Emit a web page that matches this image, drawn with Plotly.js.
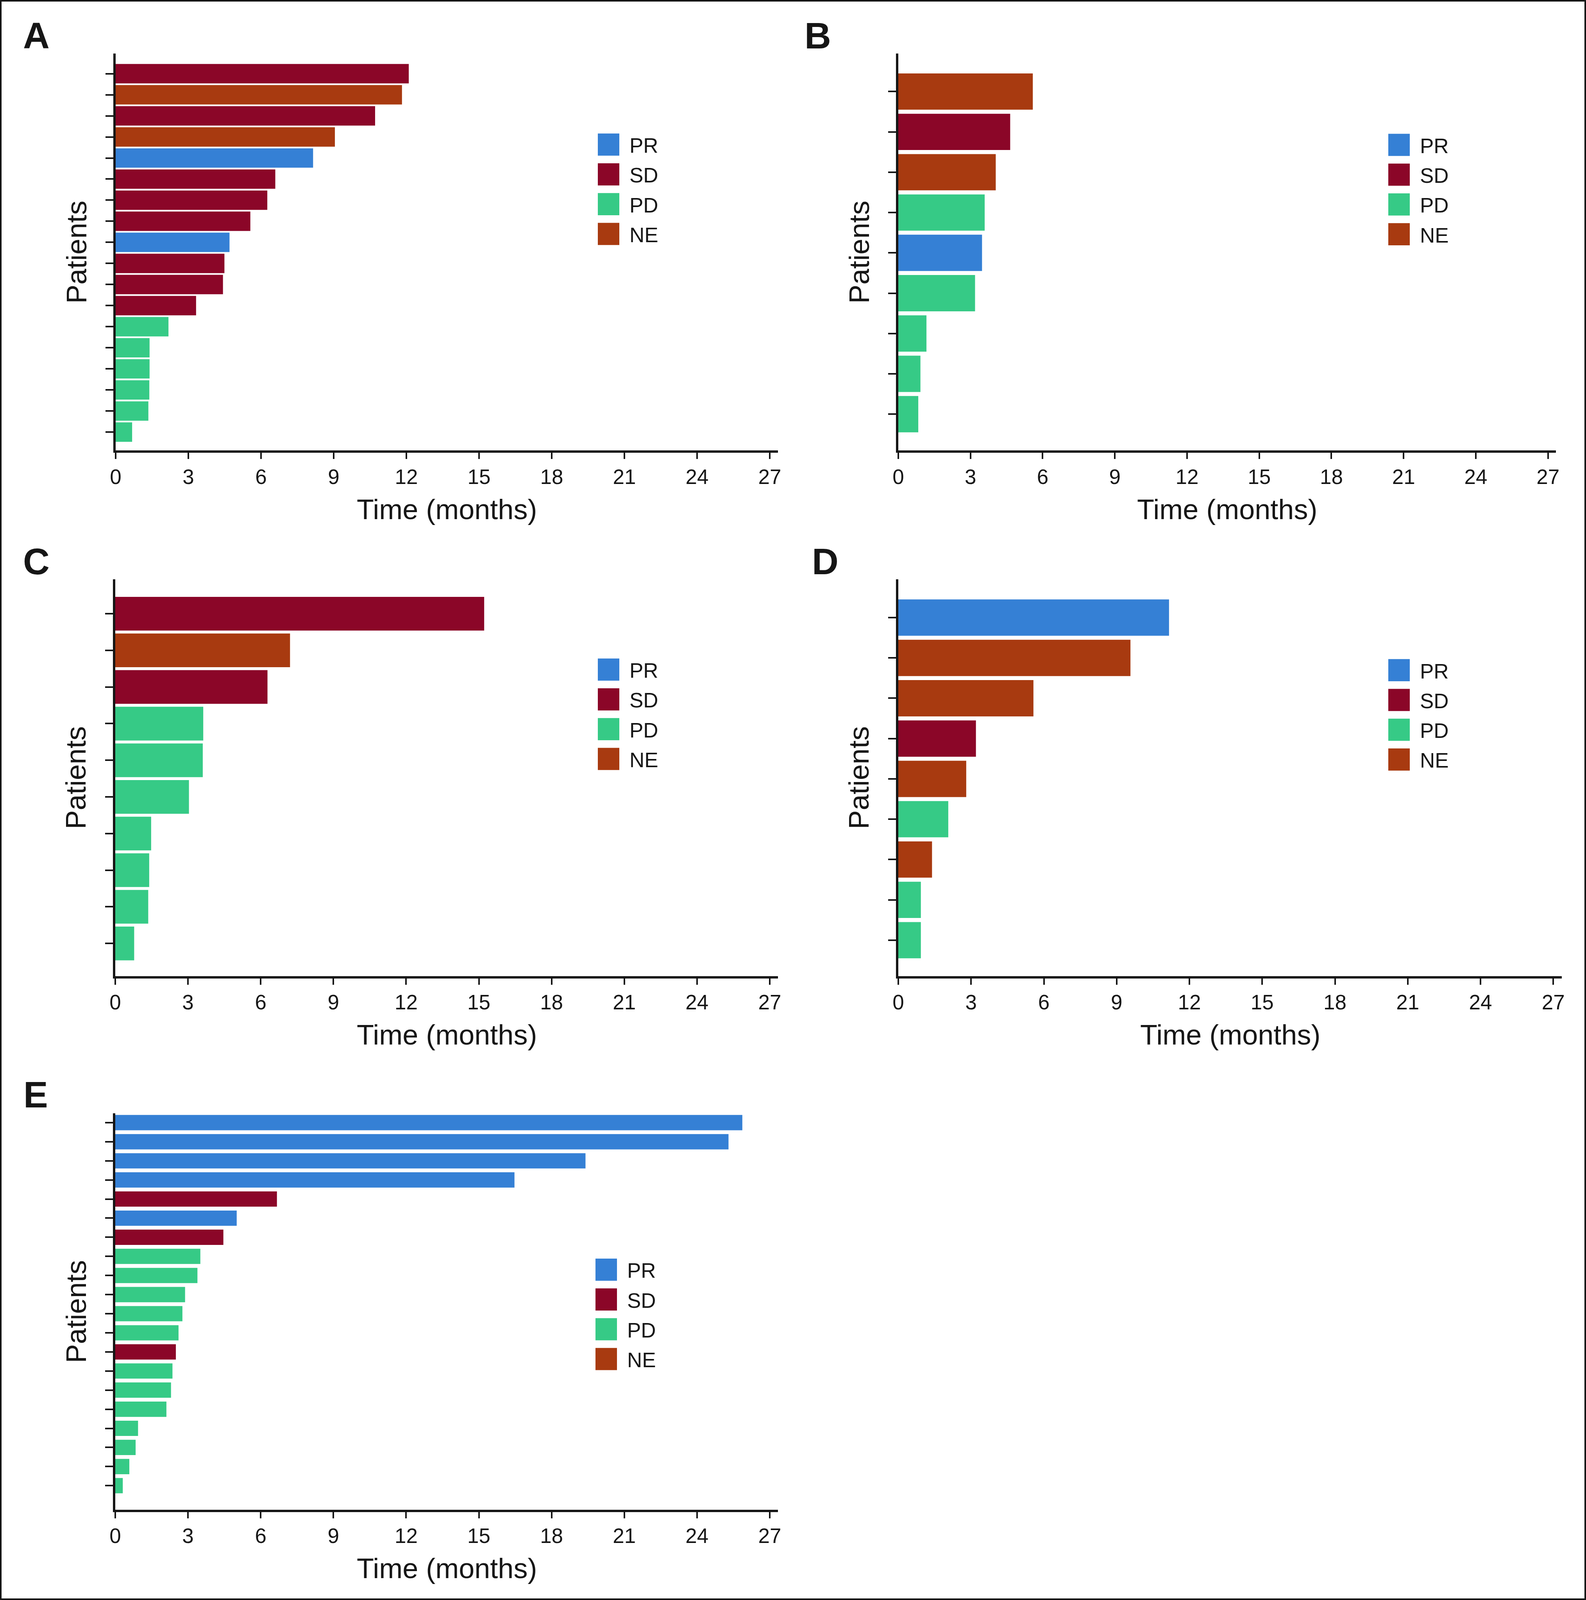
<!DOCTYPE html>
<html>
<head>
<meta charset="utf-8">
<script src="https://cdn.plot.ly/plotly-3.0.1.min.js"></script>
<style>html,body{margin:0;padding:0;background:#fff;overflow:hidden;}</style>
</head>
<body>
<div id="chart"></div>
<script>
// ---------- data ----------
const categories = ['PR', 'SD', 'PD', 'NE'];
const categoryColors = ['#3580d5', '#8b0628', '#36ca86', '#a83a10'];
const xTickValues = [0, 3, 6, 9, 12, 15, 18, 21, 24, 27];
const xTickLabels = ['0', '3', '6', '9', '12', '15', '18', '21', '24', '27'];
const panelLabels = ['A', 'B', 'C', 'D', 'E'];
const xAxisTitle = 'Time (months)';
const yAxisTitle = 'Patients';

// months per patient, listed top to bottom
const monthsA = [12.10, 11.82, 10.71, 9.05, 8.15, 6.59, 6.26, 5.56, 4.70, 4.49, 4.43, 3.32, 2.18, 1.40, 1.40, 1.39, 1.35, 0.68];
const statusA = ['SD', 'NE', 'SD', 'NE', 'PR', 'SD', 'SD', 'SD', 'PR', 'SD', 'SD', 'SD', 'PD', 'PD', 'PD', 'PD', 'PD', 'PD'];

const monthsB = [5.59, 4.65, 4.05, 3.59, 3.48, 3.19, 1.17, 0.92, 0.83];
const statusB = ['NE', 'SD', 'NE', 'PD', 'PR', 'PD', 'PD', 'PD', 'PD'];

const monthsC = [15.22, 7.21, 6.28, 3.63, 3.61, 3.04, 1.48, 1.40, 1.36, 0.78];
const statusC = ['SD', 'NE', 'SD', 'PD', 'PD', 'PD', 'PD', 'PD', 'PD', 'PD'];

const monthsD = [11.16, 9.57, 5.57, 3.20, 2.80, 2.06, 1.39, 0.93, 0.93];
const statusD = ['PR', 'NE', 'NE', 'SD', 'NE', 'PD', 'NE', 'PD', 'PD'];

const monthsE = [25.87, 25.30, 19.40, 16.47, 6.67, 5.01, 4.46, 3.51, 3.39, 2.88, 2.77, 2.61, 2.50, 2.36, 2.30, 2.11, 0.94, 0.84, 0.58, 0.31];
const statusE = ['PR', 'PR', 'PR', 'PR', 'SD', 'PR', 'SD', 'PD', 'PD', 'PD', 'PD', 'PD', 'SD', 'PD', 'PD', 'PD', 'PD', 'PD', 'PD', 'PD'];

// ---------- layout geometry ----------
// design grid is 4059 x 4980; the window may be shorter, so vertical
// positions are scaled to the height that is really available
const W = 4059, H0 = 4980;
const H = Math.max(1000, Math.min(H0, window.innerHeight || H0));
const sy = H / H0;
const fs = 1 - (1 - sy) * 0.35;           // gentle font scaling
const ink = '#161616';
const sans = '"Liberation Sans", Arial, Helvetica, sans-serif';
const panels = [
  {months: monthsA, status: statusA, x0: 296, x1: 1991, y0: 167, y1: 1402, xmax: 27.34, padTop: 0.95, padBottom: 0.87, bw: 0.92, legX: 1530, legY: 450, letX: 93, letY: 107},
  {months: monthsB, status: statusB, x0: 2299, x1: 3982, y0: 167, y1: 1402, xmax: 27.33, padTop: 0.94, padBottom: 0.90, bw: 0.90, legX: 3553, legY: 451, letX: 2093, letY: 107},
  {months: monthsC, status: statusC, x0: 295, x1: 1991, y0: 1803, y1: 3038, xmax: 27.34, padTop: 0.94, padBottom: 0.89, bw: 0.92, legX: 1530, legY: 2084, letX: 93, letY: 1744},
  {months: monthsD, status: statusD, x0: 2299, x1: 3997, y0: 1803, y1: 3038, xmax: 27.35, padTop: 0.95, padBottom: 0.89, bw: 0.90, legX: 3553, legY: 2086, letX: 2112, letY: 1744},
  {months: monthsE, status: statusE, x0: 295, x1: 1991, y0: 3465, y1: 4699, xmax: 27.34, padTop: 0.49, padBottom: 1.26, bw: 0.80, legX: 1524, legY: 3952, letX: 91, letY: 3403}
];
const legendStep = 92.7, legSqW = 55, legSqH = 69;

const px = v => v / W;
const py = v => 1 - v / H0;      // v given on the 4980-tall design grid

const chartDiv = document.getElementById('chart');
chartDiv.style.width = W + 'px';
chartDiv.style.height = H + 'px';

const traces = [];
const layout = {
  width: W, height: H,
  margin: {l: 0, r: 0, t: 0, b: 0, pad: 0},
  paper_bgcolor: '#ffffff', plot_bgcolor: '#ffffff',
  barmode: 'overlay',
  showlegend: false,
  font: {family: sans, color: ink},
  shapes: [], annotations: []
};

// outer frame
layout.shapes.push({type: 'rect', xref: 'paper', yref: 'paper', x0: 0, x1: 1, y0: 0, y1: 1,
  line: {color: ink, width: 8}, fillcolor: 'rgba(0,0,0,0)'});

panels.forEach((p, i) => {
  const s = i === 0 ? '' : String(i + 1);
  const n = p.months.length;
  const idx = p.months.map((_, k) => k);
  traces.push({
    type: 'bar', orientation: 'h',
    x: p.months, y: idx,
    width: p.bw,
    xaxis: 'x' + s, yaxis: 'y' + s,
    marker: {color: p.status.map(c => categoryColors[categories.indexOf(c)]), line: {width: 0}},
    hovertemplate: '%{x:.2f} months<extra></extra>'
  });
  layout['xaxis' + s] = {
    domain: [px(p.x0), px(p.x1)], range: [0, p.xmax], anchor: 'y' + s,
    tickmode: 'array', tickvals: xTickValues, ticktext: xTickLabels,
    ticks: 'outside', ticklen: Math.round(20 * sy), tickwidth: 4, tickcolor: ink,
    showline: true, linewidth: 6, linecolor: ink,
    showgrid: false, zeroline: false,
    tickfont: {family: sans, size: Math.round(57 * fs), color: ink},
    ticklabelstandoff: Math.max(0, Math.round(14 - (1 - sy) * 82)), fixedrange: true
  };
  layout['yaxis' + s] = {
    domain: [py(p.y1), py(p.y0)], range: [n - 1 + p.padBottom, -p.padTop], anchor: 'x' + s,
    tickmode: 'array', tickvals: idx, showticklabels: false,
    ticks: 'outside', ticklen: 20, tickwidth: 4, tickcolor: ink,
    showline: true, linewidth: 6, linecolor: ink,
    showgrid: false, zeroline: false, fixedrange: true
  };
  // panel letter
  layout.annotations.push({xref: 'paper', yref: 'paper', x: px(p.letX), y: py(p.letY + 4),
    xanchor: 'center', yanchor: 'middle', showarrow: false, text: '<b>' + panelLabels[i] + '</b>',
    font: {family: sans, size: Math.round(100 * fs), color: ink}});
  // axis titles
  layout.annotations.push({xref: 'paper', yref: 'paper', x: px((p.x0 + p.x1) / 2), y: py(p.y1 + 183),
    xanchor: 'center', yanchor: 'middle', showarrow: false, text: xAxisTitle,
    font: {family: sans, size: Math.round(77 * fs), color: ink}});
  layout.annotations.push({xref: 'paper', yref: 'paper', x: px(p.x0 - 101), y: py((p.y0 + p.y1) / 2),
    xanchor: 'center', yanchor: 'middle', showarrow: false, text: yAxisTitle, textangle: -90,
    font: {family: sans, size: Math.round(78 * fs), color: ink}});
  // legend (drawn from the category list)
  categories.forEach((c, k) => {
    const cy = p.legY + k * legendStep;
    layout.shapes.push({type: 'rect', xref: 'paper', yref: 'paper',
      x0: px(p.legX), x1: px(p.legX + legSqW), y0: py(cy + legSqH / 2), y1: py(cy - legSqH / 2),
      line: {width: 0}, fillcolor: categoryColors[k]});
    layout.annotations.push({xref: 'paper', yref: 'paper', x: px(p.legX + legSqW + 24), y: py(cy + 3),
      xanchor: 'left', yanchor: 'middle', showarrow: false, text: c,
      font: {family: sans, size: Math.round(57 * fs), color: ink}});
  });
});

Plotly.newPlot('chart', traces, layout, {displayModeBar: false, responsive: false});
</script>
</body>
</html>
